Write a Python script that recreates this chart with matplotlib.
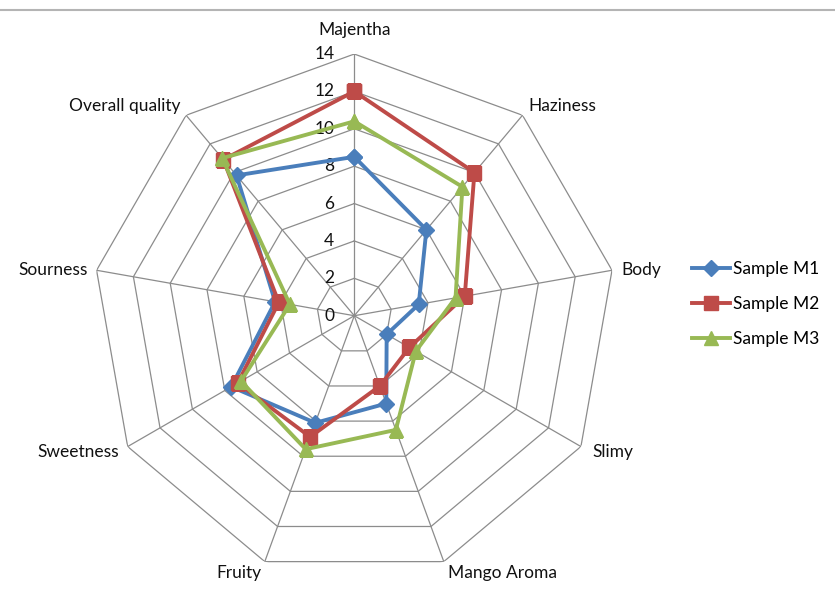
import numpy as np
import matplotlib.pyplot as plt
from matplotlib import transforms
from matplotlib.lines import Line2D

plt.rcParams['font.family'] = ['Lato', 'DejaVu Sans']

categories = ['Majentha', 'Haziness', 'Body', 'Slimy', 'Mango Aroma',
              'Fruity', 'Sweetness', 'Sourness', 'Overall quality']
sample_m1 = [8.5, 6.0, 3.5, 2.0, 5.0, 6.1, 7.6, 4.3, 9.8]
sample_m2 = [12.0, 10.0, 6.0, 3.4, 4.0, 6.9, 7.2, 4.1, 10.9]
sample_m3 = [10.4, 9.0, 5.5, 3.8, 6.5, 7.6, 7.0, 3.5, 11.0]
levels = [0, 2, 4, 6, 8, 10, 12, 14]

fs = 12.5
fig = plt.figure(figsize=(8.35, 5.93), dpi=100)
ax = fig.add_axes([0.1109, 0.0263, 0.6268, 0.8826], projection='polar')
ax.set_theta_zero_location('N')
ax.set_theta_direction(-1)
ax.set_ylim(0, 14)
ax.grid(False)
ax.set_xticks([])
ax.set_yticks([])
ax.spines['polar'].set_visible(False)

n = len(categories)
theta = np.linspace(0, 2 * np.pi, n, endpoint=False)
theta_c = np.append(theta, theta[0])

# polygon grid and spokes
grid_col = '#8c8c8c'
for lv in levels[1:]:
    ax.plot(theta_c, [lv] * (n + 1), color=grid_col, lw=0.9, zorder=1)
for t in theta:
    ax.plot([t, t], [0, 14], color=grid_col, lw=0.9, zorder=1)

# radial labels next to the top spoke
off = transforms.offset_copy(ax.transData, fig=fig, x=-20, y=0, units='dots')
for lv in levels:
    ax.text(0, lv, str(lv), transform=off, ha='right', va='center',
            fontsize=fs, color='#111111')

# category labels
aligns = [('center', 'bottom', 0, 16), ('left', 'center', 6, 9),
          ('left', 'center', 9, 0), ('left', 'center', 11, -5),
          ('left', 'center', 4, -11), ('right', 'center', -3, -11),
          ('right', 'center', -9, -5), ('right', 'center', -9, 0),
          ('right', 'center', -6, 9)]
for t, lab, (ha, va, dx, dy) in zip(theta, categories, aligns):
    tr = transforms.offset_copy(ax.transData, fig=fig, x=dx, y=dy, units='dots')
    ax.text(t, 14, lab, transform=tr, ha=ha, va=va, fontsize=fs,
            color='#111111')

series = [(sample_m1, 'Sample M1', '#4a7ebb', 'D', 8),
          (sample_m2, 'Sample M2', '#be4b48', 's', 9.5),
          (sample_m3, 'Sample M3', '#98b954', '^', 10)]
for vals, name, col, mk, ms in series:
    v = list(vals) + [vals[0]]
    ax.plot(theta_c, v, color=col, lw=2.8, marker=mk, markersize=ms,
            label=name, zorder=3)

fig.legend(loc='center left', bbox_to_anchor=(0.818, 0.487), frameon=False,
           fontsize=fs, labelspacing=1.08, handlelength=2.2,
           handletextpad=0.15, borderpad=0)

# page edge line at the top
fig.add_artist(Line2D([0, 1], [1 - 10 / 593, 1 - 10 / 593],
                      transform=fig.transFigure, color='#b4b4b4', lw=1.5))

fig.savefig('out.png', dpi=100)
